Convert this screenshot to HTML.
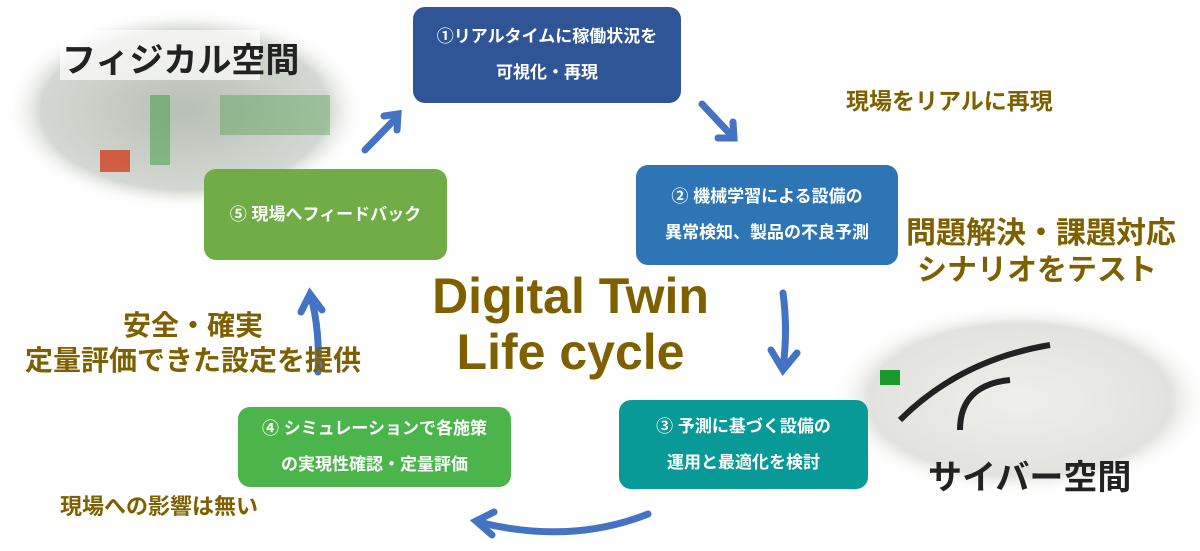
<!DOCTYPE html>
<html><head><meta charset="utf-8"><style>
body{margin:0;width:1200px;height:551px;background:#fff;position:relative;overflow:hidden;font-family:"Liberation Sans","Noto Sans CJK JP",sans-serif}
.b{position:absolute;border-radius:12px;color:#fff;font-weight:bold;font-size:17px;text-align:center;display:flex;flex-direction:column;justify-content:center;line-height:36px}
.g{position:absolute;color:#7f6000;font-weight:bold;white-space:nowrap}
.k{position:absolute;color:#222;font-weight:bold;white-space:nowrap;font-size:34px}
</style></head><body>
<svg width="1200" height="551" style="position:absolute;left:0;top:0">
<defs>
<radialGradient id="p" cx="50%" cy="50%" r="50%"><stop offset="0" stop-color="#b8bfb6"/><stop offset=".8" stop-color="#d4d8d2"/><stop offset="1" stop-color="#fff" stop-opacity="0"/></radialGradient>
<radialGradient id="c" cx="50%" cy="50%" r="50%"><stop offset="0" stop-color="#efefec"/><stop offset=".8" stop-color="#e2e2de"/><stop offset="1" stop-color="#fff" stop-opacity="0"/></radialGradient>
</defs>
<ellipse cx="185" cy="110" rx="180" ry="100" fill="url(#p)"/>
<rect x="150" y="95" width="20" height="70" fill="#3a9a40" opacity=".5"/>
<rect x="220" y="95" width="110" height="40" fill="#4a9a48" opacity=".4"/>
<rect x="100" y="150" width="30" height="22" fill="#d04020" opacity=".8"/>
<rect x="60" y="30" width="200" height="50" fill="#fff" opacity=".7"/>
<ellipse cx="1020" cy="400" rx="190" ry="95" fill="url(#c)"/>
<path d="M900 420 Q960 360 1050 345" stroke="#222" stroke-width="6" fill="none"/>
<path d="M960 430 Q960 385 1010 380" stroke="#222" stroke-width="6" fill="none"/>
<rect x="880" y="370" width="20" height="15" fill="#1a9a2a"/>
<g stroke="#4472c4" stroke-width="7" fill="none" stroke-linecap="round">
<path d="M365 150 L396 118"/><path d="M384 116 L398 114 L397 130"/>
<path d="M702 104 L732 136"/><path d="M718 138 L734 138 L733 122"/>
<path d="M783 293 Q788 330 783 368"/><path d="M771 350 L783 370 L797 353"/>
<path d="M648 514 Q570 545 478 522"/><path d="M494 512 L476 521 L492 535"/>
<path d="M318 372 Q320 330 311 297"/><path d="M301 312 L310 294 L322 310"/>
</g>
</svg>
<div class="k" style="left:62px;top:33px">フィジカル空間</div>
<div class="k" style="left:928px;top:450px">サイバー空間</div>
<div class="b" style="left:413px;top:7px;width:268px;height:96px;background:#2f5597">①リアルタイムに稼働状況を<br>可視化・再現</div>
<div class="b" style="left:636px;top:165px;width:262px;height:100px;background:#2e75b6">② 機械学習による設備の<br>異常検知、製品の不良予測</div>
<div class="b" style="left:619px;top:400px;width:249px;height:89px;background:#079a96">③ 予測に基づく設備の<br>運用と最適化を検討</div>
<div class="b" style="left:238px;top:407px;width:273px;height:80px;background:#4bb54b">④ シミュレーションで各施策<br>の実現性確認・定量評価</div>
<div class="b" style="left:204px;top:169px;width:243px;height:91px;background:#70ad47">⑤ 現場へフィードバック</div>
<div class="g" style="left:428px;top:268px;font-size:50px;line-height:56px;text-align:center;width:285px">Digital Twin<br>Life cycle</div>
<div class="g" style="left:846px;top:82px;font-size:23px">現場をリアルに再現</div>
<div class="g" style="left:906px;top:215px;font-size:30px;line-height:37px;text-align:center;width:262px">問題解決・課題対応<br>シナリオをテスト</div>
<div class="g" style="left:18px;top:308px;font-size:28px;line-height:35px;text-align:center;width:350px">安全・確実<br>定量評価できた設定を提供</div>
<div class="g" style="left:60px;top:489px;font-size:22px">現場への影響は無い</div>
</body></html>
